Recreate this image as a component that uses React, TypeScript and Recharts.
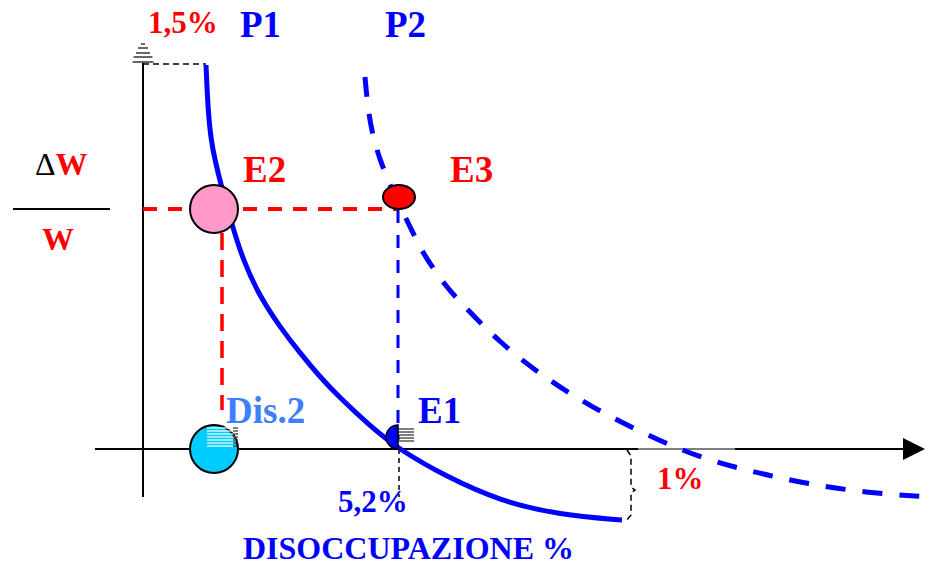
import { ComposedChart, Line, ReferenceLine, Scatter, XAxis, YAxis } from "recharts";

// Curva di Phillips: ascissa = disoccupazione, ordinata = ΔW/W (unità dello schema,
// origine nell'incrocio degli assi)
const P1_CURVE = [
  { x: 63, y: 384 },
  { x: 65, y: 339 },
  { x: 68, y: 309 },
  { x: 72, y: 289 },
  { x: 78, y: 264 },
  { x: 89, y: 224 },
  { x: 100, y: 189 },
  { x: 117, y: 152 },
  { x: 137, y: 122 },
  { x: 157, y: 96 },
  { x: 177, y: 72 },
  { x: 197, y: 51 },
  { x: 225, y: 25 },
  { x: 255, y: 0 },
  { x: 304, y: -28 },
  { x: 357, y: -52 },
  { x: 417, y: -66 },
  { x: 479, y: -71 },
];

const P2_CURVE = [
  { x: 222, y: 372 },
  { x: 225, y: 339 },
  { x: 230, y: 312 },
  { x: 237, y: 289 },
  { x: 247, y: 264 },
  { x: 257, y: 243 },
  { x: 269, y: 218 },
  { x: 282, y: 192 },
  { x: 302, y: 164 },
  { x: 317, y: 147 },
  { x: 357, y: 106 },
  { x: 402, y: 71 },
  { x: 450, y: 41 },
  { x: 502, y: 15 },
  { x: 554, y: -8 },
  { x: 610, y: -23 },
  { x: 665, y: -35 },
  { x: 725, y: -44 },
  { x: 786, y: -48 },
];

// graffa tratteggiata che indica l'1%
const BRACE = [
  { x: 484, y: -1 },
  { x: 488, y: -7 },
  { x: 488, y: -38 },
  { x: 492, y: -41 },
  { x: 488, y: -44 },
  { x: 488, y: -66 },
  { x: 483, y: -72 },
];

const Y_AXIS = [{ x: 0, y: 386 }, { x: 0, y: -48 }];
const X_AXIS = [{ x: -48, y: 0 }, { x: 762, y: 0 }];
const X_AXIS_GAP = [{ x: 495, y: 0 }, { x: 592, y: 0 }];
const TOP_GUIDE = [{ x: 0, y: 385 }, { x: 63, y: 385 }];
const E2_H_GUIDE = [{ x: 0, y: 240 }, { x: 256, y: 240 }];
const E2_V_GUIDE = [{ x: 79, y: 216 }, { x: 79, y: 39 }];
const E3_V_GUIDE = [{ x: 255, y: 239 }, { x: 255, y: 9 }];
const E1_V_GUIDE = [{ x: 256, y: 0 }, { x: 256, y: -48 }];
const FRACTION_BAR = [{ x: -130, y: 240 }, { x: -33, y: 240 }];

const POINTS = [
  { id: "E2", x: 71, y: 240 },
  { id: "E3", x: 256, y: 252 },
  { id: "Dis2", x: 71, y: 0 },
  { id: "E1", x: 255, y: 12 },
];

const ARROWS = [
  { id: "xArrow", x: 782, y: 0 },
  { id: "yArrow", x: 0, y: 405 },
];

const LABELS = [
  { id: "pct15", text: "1,5%", x: 5, y: 416 },
  { id: "P1", text: "P1", x: 97, y: 412 },
  { id: "P2", text: "P2", x: 242, y: 412 },
  { id: "E2", text: "E2", x: 100, y: 267 },
  { id: "E3", text: "E3", x: 307, y: 267 },
  { id: "Dis2", text: "Dis.2", x: 83, y: 26 },
  { id: "E1", text: "E1", x: 275, y: 26 },
  { id: "pct52", text: "5,2%", x: 195, y: -63 },
  { id: "pct1", text: "1%", x: 514, y: -40 },
  { id: "xTitle", text: "DISOCCUPAZIONE %", x: 100, y: -110 },
  { id: "dW", text: "ΔW", x: -108, y: 274 },
  { id: "W", text: "W", x: -101, y: 199 },
];

const RED = "#FF0000";
const BLUE = "#0000FF";
const FONT = "'Liberation Serif', 'Times New Roman', serif";

const LABEL_STYLE: Record<string, { size: number; color: string }> = {
  pct15: { size: 31, color: RED },
  P1: { size: 37, color: BLUE },
  P2: { size: 37, color: BLUE },
  E2: { size: 37, color: RED },
  E3: { size: 37, color: RED },
  Dis2: { size: 37, color: "#3F7FFF" },
  E1: { size: 37, color: BLUE },
  pct52: { size: 31, color: BLUE },
  pct1: { size: 31, color: RED },
  xTitle: { size: 32, color: BLUE },
  dW: { size: 32, color: RED },
  W: { size: 32, color: RED },
};

function LabelShape(props: any) {
  const { cx, cy, payload } = props;
  const st = LABEL_STYLE[payload.id];
  if (payload.id === "dW") {
    return (
      <text x={cx} y={cy} fontFamily={FONT} fontSize={st.size} fontWeight="bold">
        <tspan fill="#000" fontWeight="normal">Δ</tspan>
        <tspan fill={st.color}>W</tspan>
      </text>
    );
  }
  return (
    <text x={cx} y={cy} fontFamily={FONT} fontSize={st.size} fontWeight="bold" fill={st.color}>
      {payload.text}
    </text>
  );
}

function PointShape(props: any) {
  const { cx, cy, payload } = props;
  if (payload.id === "E2") {
    return <circle cx={cx} cy={cy} r={24} fill="#FF99CC" stroke="#000" strokeWidth={2} />;
  }
  if (payload.id === "E3") {
    return <ellipse cx={cx} cy={cy} rx={16} ry={12} fill={RED} stroke="#000" strokeWidth={2} />;
  }
  if (payload.id === "Dis2") {
    const rows = [-21, -18, -15, -12, -9, -6, -3];
    return (
      <g>
        <circle cx={cx} cy={cy} r={24} fill="#00CCFF" stroke="#000" strokeWidth={2} />
        {rows.map((d) => (
          <g key={d}>
            <line x1={cx - 7} x2={cx + 22} y1={cy + d} y2={cy + d} stroke="#fff" strokeWidth={1.2} />
            <line x1={cx + 19} x2={cx + 24} y1={cy + d} y2={cy + d} stroke="#000" strokeWidth={1} />
          </g>
        ))}
      </g>
    );
  }
  // E1: semicerchio blu
  const r = 12;
  const rows = [-8, -5, -2, 1, 4];
  return (
    <g>
      <path
        d={`M ${cx} ${cy - r} A ${r} ${r} 0 0 0 ${cx} ${cy + r} Z`}
        fill={BLUE}
        stroke="#000"
        strokeWidth={1.5}
      />
      {rows.map((d) => (
        <line key={d} x1={cx} x2={cx + 16} y1={cy + d} y2={cy + d} stroke="#000" strokeWidth={1} />
      ))}
    </g>
  );
}

function ArrowShape(props: any) {
  const { cx, cy, payload } = props;
  if (payload.id === "xArrow") {
    return <polygon points={`${cx - 22},${cy - 11} ${cx},${cy} ${cx - 22},${cy + 11}`} fill="#000" />;
  }
  const steps = [
    [0, 2],
    [4, 5],
    [9, 7],
    [13, 9.5],
    [18, 10.5],
  ];
  return (
    <g>
      {steps.map(([dy, w]) => (
        <line key={dy} x1={cx - w} x2={cx + w} y1={cy + dy} y2={cy + dy} stroke="#000" strokeWidth={1.2} />
      ))}
    </g>
  );
}

export default function App() {
  const seg = (
    key: string,
    pts: { x: number; y: number }[],
    color: string,
    width: number,
    dash?: string
  ) => (
    <ReferenceLine
      key={key}
      segment={pts}
      stroke={color}
      strokeWidth={width}
      strokeDasharray={dash}
      ifOverflow="visible"
    />
  );

  return (
    <div style={{ position: "absolute", left: 0, top: 0, background: "#fff" }}>
      <ComposedChart width={929} height={566} margin={{ top: 0, right: 0, bottom: 0, left: 0 }}>
        <XAxis type="number" dataKey="x" domain={[-143, 786]} hide allowDataOverflow />
        <YAxis type="number" dataKey="y" domain={[-117, 449]} hide allowDataOverflow />
        {seg("yaxis", Y_AXIS, "#000", 2)}
        {seg("xaxis", X_AXIS, "#000", 2)}
        {seg("xgap", X_AXIS_GAP, "#fff", 1)}
        {seg("top", TOP_GUIDE, "#000", 1.5, "6 4")}
        {seg("frac", FRACTION_BAR, "#000", 2)}
        {seg("e2h", E2_H_GUIDE, RED, 4, "14 11")}
        {seg("e2v", E2_V_GUIDE, RED, 3.5, "17 10")}
        {seg("e3v", E3_V_GUIDE, BLUE, 3, "13 12")}
        {seg("e1v", E1_V_GUIDE, "#000", 1.5, "5 4")}
        <Line
          data={BRACE}
          dataKey="y"
          type="linear"
          stroke="#000"
          strokeWidth={1.5}
          strokeDasharray="6 4"
          dot={false}
          isAnimationActive={false}
        />
        <Line
          data={P1_CURVE}
          dataKey="y"
          type="basis"
          stroke={BLUE}
          strokeWidth={5}
          dot={false}
          isAnimationActive={false}
        />
        <Line
          data={P2_CURVE}
          dataKey="y"
          type="basis"
          stroke={BLUE}
          strokeWidth={5}
          strokeDasharray="20 17"
          dot={false}
          isAnimationActive={false}
        />
        <Scatter data={ARROWS} shape={ArrowShape} isAnimationActive={false} />
        <Scatter data={POINTS} shape={PointShape} isAnimationActive={false} />
        <Scatter data={LABELS} shape={LabelShape} isAnimationActive={false} />
      </ComposedChart>
    </div>
  );
}
